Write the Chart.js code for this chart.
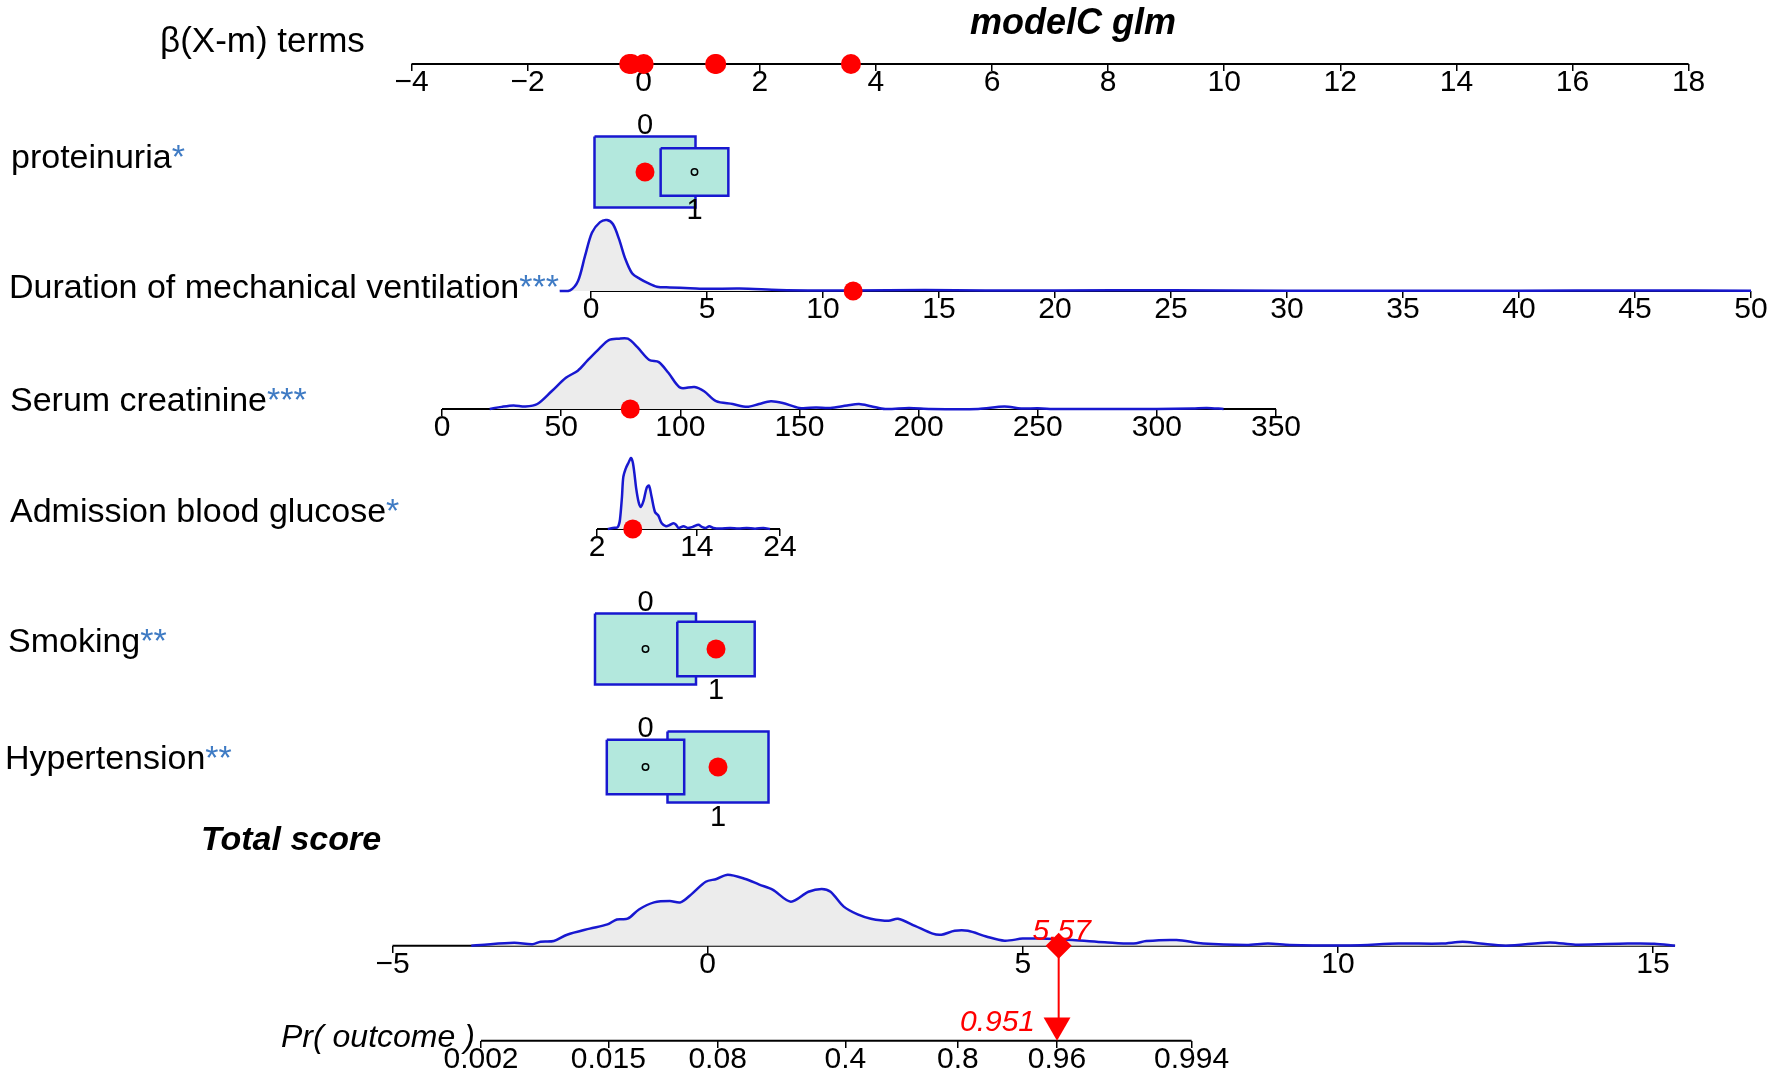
<!DOCTYPE html>
<html>
<head>
<meta charset="utf-8">
<script src="https://cdn.jsdelivr.net/npm/chart.js@4.4.1/dist/chart.umd.min.js"></script>
<style>
  html, body { margin: 0; padding: 0; background: #fff; }
  canvas { display: block; }
</style>
</head>
<body>
<canvas id="chart" width="1772" height="1075"></canvas>
<script>
// --- Data ---
const title = 'modelC glm';
const varNames = ['proteinuria', 'Duration of mechanical ventilation', 'Serum creatinine',
                  'Admission blood glucose', 'Smoking', 'Hypertension'];
const varStars = ['*', '***', '***', '*', '**', '**'];
const patientValues = [0, 11.3, 79, 6.3, 1, 1];
const betaTerms = [0.0, 3.57, -0.25, -0.21, 1.23, 1.25];
const totalScore = 5.57;
const probability = 0.951;

const betaTicks = [-4, -2, 0, 2, 4, 6, 8, 10, 12, 14, 16, 18];
const durTicks = [0, 5, 10, 15, 20, 25, 30, 35, 40, 45, 50];
const creatTicks = [0, 50, 100, 150, 200, 250, 300, 350];
const glucTicks = [2, 14, 24];
const totalTicks = [-5, 0, 5, 10, 15];
const prTicks = [0.002, 0.015, 0.08, 0.4, 0.8, 0.951, 0.994];
const prTickLabels = ['0.002', '0.015', '0.08', '0.4', '0.8', '0.96', '0.994'];

const betaRange = [-4, 18];
const durRange = [0, 50];
const creatRange = [0, 350];
const glucRange = [2, 24];
const totalRange = [-5, 15.35];
const prRange = [0.002, 0.994];

// proportion of patients in level 0 / level 1
const protFreq = [0.69, 0.31];
const smokeFreq = [0.63, 0.37];
const hypFreq = [0.37, 0.63];

// [value, relative density]
const durDensity = [[-1.35, 0], [-0.9, 0.01], [-0.56, 0.14], [-0.26, 0.49], [0.04, 0.82], [0.39, 0.97],
  [0.69, 1.0], [0.95, 0.94], [1.21, 0.73], [1.47, 0.46], [1.77, 0.25], [2.11, 0.17], [2.46, 0.11],
  [2.84, 0.06], [3.4, 0.05], [4.27, 0.04], [5.0, 0.03], [6.4, 0.035], [8.1, 0.015], [9.9, 0.007],
  [11.2, 0.007], [14.4, 0.015], [17, 0.006], [20, 0.007], [25, 0.011], [30, 0.004], [35, 0.003],
  [40, 0.004], [45, 0.008], [50, 0.003]];
const creatDensity = [[20, 0], [25, 0.03], [30, 0.05], [35, 0.035], [40, 0.07], [46, 0.25], [52, 0.44],
  [57, 0.54], [61, 0.68], [66, 0.85], [70, 0.97], [74, 0.99], [78, 0.99], [82, 0.87], [87, 0.69],
  [91, 0.66], [95, 0.51], [100, 0.30], [106, 0.31], [110, 0.25], [115, 0.11], [122, 0.07], [128, 0.03],
  [133, 0.07], [138, 0.11], [143, 0.085], [150, 0.015], [157, 0.02], [163, 0.015], [170, 0.05],
  [175, 0.07], [180, 0.04], [186, 0], [196, 0.015], [205, 0], [225, 0], [236, 0.035], [243, 0.007],
  [250, 0.01], [258, 0], [300, 0], [315, 0.007], [321, 0.015], [328, 0]];
const glucDensity = [[3.3, 0], [3.9, 0.015], [4.4, 0.02], [4.6, 0.05], [4.76, 0.13], [5.0, 0.45],
  [5.16, 0.73], [5.45, 0.85], [5.77, 0.93], [6.09, 1.0], [6.3, 0.94], [6.5, 0.78], [6.7, 0.58],
  [7.0, 0.38], [7.25, 0.31], [7.6, 0.40], [7.97, 0.58], [8.25, 0.61], [8.57, 0.45], [8.97, 0.24],
  [9.37, 0.19], [9.78, 0.08], [10.3, 0.04], [10.8, 0.06], [11.2, 0.08], [11.5, 0.06], [11.8, 0.015],
  [12.4, 0.04], [12.9, 0.015], [13.5, 0.03], [14.2, 0.06], [14.6, 0.03], [15.1, 0.015], [15.5, 0.04],
  [16, 0.015], [16.8, 0.007], [18, 0.015], [19, 0.007], [20, 0.015], [21, 0.004], [22, 0.015], [22.8, 0]];
const totalDensity = [[-3.75, 0], [-3.6, 0.01], [-3.07, 0.04], [-2.78, 0.02], [-2.65, 0.056], [-2.44, 0.066],
  [-2.23, 0.155], [-1.87, 0.24], [-1.59, 0.30], [-1.44, 0.37], [-1.27, 0.38], [-1.09, 0.51], [-0.85, 0.61],
  [-0.6, 0.63], [-0.43, 0.61], [-0.25, 0.73], [-0.03, 0.90], [0.14, 0.94], [0.32, 1.0], [0.6, 0.94],
  [0.82, 0.86], [1.03, 0.79], [1.32, 0.62], [1.6, 0.76], [1.81, 0.80], [1.95, 0.76], [2.16, 0.55],
  [2.38, 0.44], [2.59, 0.38], [2.87, 0.35], [3.02, 0.38], [3.29, 0.28], [3.57, 0.17], [3.71, 0.155],
  [3.92, 0.21], [4.13, 0.21], [4.42, 0.13], [4.71, 0.07], [5.0, 0.10], [5.28, 0.10], [5.79, 0.08],
  [6.3, 0.05], [6.76, 0.03], [6.96, 0.066], [7.44, 0.08], [7.86, 0.03], [8.55, 0.01], [8.89, 0.03],
  [9.24, 0.01], [10.2, 0.004], [10.96, 0.03], [11.65, 0.03], [11.98, 0.056], [12.26, 0.03], [12.67, 0],
  [13.36, 0.046], [13.77, 0.014], [14.6, 0.03], [15.02, 0.028], [15.35, 0]];

// --- Layout ---
const W = 1772, H = 1075;
const FONT = '"Liberation Sans", Arial, Helvetica, sans-serif';
const PEAK = 71;              // px height of a density peak
const BOX_HALF_W = 50.5, BOX_HALF_H = 35.5;
const ARROW_R = 15.5;
const ROW = { beta: 64, prot: 172, dur: 291, creat: 409, gluc: 529, smoke: 649, hyp: 767, total: 945.7, pr: 1040.7 };
const logit = p => Math.log(p / (1 - p));
// two value -> pixel anchors per axis
const ANCHOR = {
  x:      [-4, 411.5, 18, 1688.6],
  xProt:  [0, 645, 1, 694.5],
  xDur:   [0, 591, 50, 1751],
  xCreat: [0, 442, 350, 1276],
  xGluc:  [2, 597, 24, 780],
  xSmoke: [0, 645.5, 1, 716],
  xHyp:   [0, 645.5, 1, 718],
  xTot:   [-5, 392.5, 15, 1653],
  xPr:    [logit(0.002), 481, logit(0.994), 1191.6]
};
const LABEL_POS = [[11, 168], [9, 298], [10, 411], [10, 522], [8, 652], [5, 769]];
const varAxis = ['xProt', 'xDur', 'xCreat', 'xGluc', 'xSmoke', 'xHyp'];
const varRow = ['prot', 'dur', 'creat', 'gluc', 'smoke', 'hyp'];
const binaries = [
  { axis: 'xProt', row: 'prot', freq: protFreq, chosen: patientValues[0] },
  { axis: 'xSmoke', row: 'smoke', freq: smokeFreq, chosen: patientValues[4] },
  { axis: 'xHyp', row: 'hyp', freq: hypFreq, chosen: patientValues[5] }
];

const BLUE = '#1818d0', RED = '#ff0000', STAR = '#3f7bc4';
const ppu = id => (ANCHOR[id][3] - ANCHOR[id][1]) / (ANCHOR[id][2] - ANCHOR[id][0]);
const boxFactors = freq => freq.map(f => Math.sqrt(f / Math.max(...freq)));
const minus = v => (v < 0 ? '\u2212' + Math.abs(v) : String(v));

// --- Scales ---
function xScale(id, row, ticks, fmt) {
  const [v1, p1, v2, p2] = ANCHOR[id];
  const k = (v2 - v1) / (p2 - p1);
  const s = {
    type: 'linear', axis: 'x', position: { y: row },
    min: v1 - p1 * k, max: v1 + (W - p1) * k, bounds: 'data',
    display: !!ticks,
    border: { display: false },
    grid: { drawOnChartArea: false, drawTicks: true, tickLength: 7, color: '#000', lineWidth: 1.5 },
    ticks: { autoSkip: false, maxRotation: 0, padding: -3, color: '#000',
             font: { family: FONT, size: 30, lineHeight: 1 }, callback: fmt || minus }
  };
  if (ticks) s.afterBuildTicks = sc => { sc.ticks = ticks.map(v => ({ value: v })); };
  return s;
}
function densityScale(row) {
  return { type: 'linear', axis: 'y', display: false, min: (row - H) / PEAK, max: row / PEAK };
}

const scales = {
  y: { type: 'linear', display: false, min: 0, max: H, reverse: true },
  x: xScale('x', ROW.beta, betaTicks),
  xProt: xScale('xProt', ROW.prot),
  xDur: xScale('xDur', ROW.dur, durTicks),
  xCreat: xScale('xCreat', ROW.creat, creatTicks),
  xGluc: xScale('xGluc', ROW.gluc, glucTicks),
  xSmoke: xScale('xSmoke', ROW.smoke),
  xHyp: xScale('xHyp', ROW.hyp),
  xTot: xScale('xTot', ROW.total, totalTicks),
  xPr: xScale('xPr', ROW.pr, prTicks.map(logit), (v, i) => prTickLabels[i]),
  yDur: densityScale(ROW.dur),
  yCreat: densityScale(ROW.creat),
  yGluc: densityScale(ROW.gluc),
  yTot: densityScale(ROW.total)
};

// --- Datasets ---
const datasets = [];
const pts = arr => arr.map(([x, y]) => ({ x, y }));

// axis lines
[['x', betaRange], ['xDur', durRange], ['xCreat', creatRange], ['xGluc', glucRange],
 ['xTot', totalRange], ['xPr', prRange.map(logit)]].forEach(([id, r], i) => {
  const row = [ROW.beta, ROW.dur, ROW.creat, ROW.gluc, ROW.total, ROW.pr][i];
  datasets.push({ type: 'line', xAxisID: id, yAxisID: 'y', order: 9,
    data: [{ x: r[0], y: row }, { x: r[1], y: row }],
    borderColor: '#000', borderWidth: 2, pointRadius: 0, fill: false });
});

// densities
[['xDur', 'yDur', durDensity], ['xCreat', 'yCreat', creatDensity],
 ['xGluc', 'yGluc', glucDensity], ['xTot', 'yTot', totalDensity]].forEach(([xid, yid, d]) => {
  datasets.push({ type: 'line', xAxisID: xid, yAxisID: yid, order: 8, data: pts(d),
    borderColor: BLUE, borderWidth: 2.5, backgroundColor: '#ececec', fill: 'origin',
    pointRadius: 0, tension: 0.3 });
});

// frequency boxes (bigger box drawn first)
binaries.forEach(b => {
  const f = boxFactors(b.freq);
  b.freq.forEach((fr, lvl) => {
    const hw = BOX_HALF_W * f[lvl] / ppu(b.axis), hh = BOX_HALF_H * f[lvl];
    const r = ROW[b.row];
    datasets.push({ type: 'line', xAxisID: b.axis, yAxisID: 'y', order: 6 + fr,
      data: [{ x: lvl - hw, y: r - hh }, { x: lvl + hw, y: r - hh }, { x: lvl + hw, y: r + hh },
             { x: lvl - hw, y: r + hh }, { x: lvl - hw, y: r - hh }],
      borderColor: BLUE, borderWidth: 2.5, backgroundColor: '#b3e8dd', fill: 'shape',
      pointRadius: 0, tension: 0 });
  });
  // the level not chosen gets a small open circle
  const other = b.chosen === 1 ? 0 : 1;
  datasets.push({ type: 'line', xAxisID: b.axis, yAxisID: 'y', order: 2, showLine: false,
    data: [{ x: other, y: ROW[b.row] }], pointRadius: 3.2, pointBorderWidth: 1.5,
    pointBackgroundColor: 'rgba(0,0,0,0)', pointBorderColor: '#000' });
});

// patient values on each row
varAxis.forEach((id, i) => {
  datasets.push({ type: 'line', xAxisID: id, yAxisID: 'y', order: 1, showLine: false,
    data: [{ x: patientValues[i], y: ROW[varRow[i]] }],
    pointRadius: 9.5, pointBackgroundColor: RED, pointBorderColor: RED, pointBorderWidth: 0 });
});

// beta terms on the top axis
datasets.push({ type: 'line', xAxisID: 'x', yAxisID: 'y', order: 1, showLine: false,
  data: betaTerms.map(t => ({ x: t, y: ROW.beta })),
  pointRadius: 10, pointBackgroundColor: RED, pointBorderColor: RED, pointBorderWidth: 0 });

// total score -> probability arrow
datasets.push({ type: 'line', xAxisID: 'xTot', yAxisID: 'y', order: 3,
  data: [{ x: totalScore, y: ROW.total }, { x: totalScore, y: ROW.pr - ARROW_R }],
  borderColor: RED, borderWidth: 2, pointRadius: 0, fill: false });
datasets.push({ type: 'line', xAxisID: 'xTot', yAxisID: 'y', order: 0, showLine: false,
  data: [{ x: totalScore, y: ROW.total }], pointStyle: 'rectRot', pointRadius: 13,
  pointBackgroundColor: RED, pointBorderColor: RED, pointBorderWidth: 0 });
datasets.push({ type: 'line', xAxisID: 'xPr', yAxisID: 'y', order: 0, showLine: false,
  data: [{ x: logit(probability), y: ROW.pr - ARROW_R }], pointStyle: 'triangle', pointRotation: 180,
  pointRadius: ARROW_R, pointBackgroundColor: RED, pointBorderColor: RED, pointBorderWidth: 0 });

// --- Text ---
const textPlugin = {
  id: 'nomogramText',
  afterDatasetsDraw(chart) {
    const { ctx, scales: s } = chart;
    const py = v => s.y.getPixelForValue(v);
    ctx.save();
    ctx.textBaseline = 'alphabetic';
    ctx.fillStyle = '#000';
    ctx.textAlign = 'center';
    ctx.font = `bold italic 36px ${FONT}`;
    ctx.fillText(title, 1073, py(34));

    ctx.textAlign = 'left';
    ctx.font = `35px ${FONT}`;
    ctx.fillText('\u03b2(X-m) terms', 160, py(52));

    ctx.font = `34px ${FONT}`;
    varNames.forEach((name, i) => {
      const [lx, ly] = LABEL_POS[i];
      ctx.fillStyle = '#000';
      ctx.fillText(name, lx, py(ly));
      const w = ctx.measureText(name).width;
      ctx.fillStyle = STAR;
      ctx.fillText(varStars[i], lx + w, py(ly));
    });

    ctx.font = `bold italic 34px ${FONT}`;
    ctx.fillStyle = '#000';
    ctx.fillText('Total score', 201, py(850));
    ctx.font = `italic 32px ${FONT}`;
    ctx.fillText('Pr( outcome )', 281, py(1047));

    ctx.textAlign = 'center';
    ctx.font = `29px ${FONT}`;
    binaries.forEach(b => {
      const f = boxFactors(b.freq);
      const sx = s[b.axis];
      ctx.fillText('0', sx.getPixelForValue(0), py(ROW[b.row] - BOX_HALF_H * f[0] - 3));
      ctx.fillText('1', sx.getPixelForValue(1), py(ROW[b.row] + BOX_HALF_H * f[1] + 23));
    });

    ctx.fillStyle = RED;
    ctx.font = `italic 30px ${FONT}`;
    ctx.fillText(totalScore.toFixed(2), s.xTot.getPixelForValue(totalScore) + 3, py(ROW.total - 6));
    ctx.textAlign = 'right';
    ctx.fillText(probability.toFixed(3), s.xPr.getPixelForValue(logit(probability)) - 22, py(ROW.pr - 10));
    ctx.restore();
  }
};

new Chart(document.getElementById('chart'), {
  type: 'line',
  data: { datasets },
  options: {
    responsive: false,
    devicePixelRatio: 1,
    animation: false,
    events: [],
    layout: { padding: 0, autoPadding: false },
    plugins: { legend: { display: false }, tooltip: { enabled: false }, title: { display: false } },
    scales
  },
  plugins: [textPlugin]
});
</script>
</body>
</html>
